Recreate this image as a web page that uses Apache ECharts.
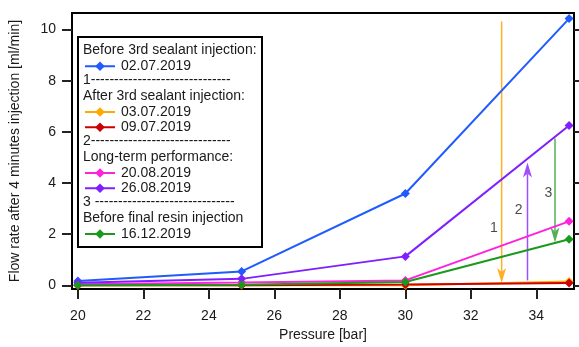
<!DOCTYPE html>
<html><head><meta charset="utf-8">
<script src="https://cdn.jsdelivr.net/npm/echarts@6/dist/echarts.min.js"></script>
<style>html,body{margin:0;padding:0;background:#fff}#c{width:579px;height:347px}</style>
</head><body><div id="c"></div>
<script>
// ---- data ----
const pressure = [20, 25, 30, 35];
const seriesNames = ['02.07.2019', '03.07.2019', '09.07.2019', '20.08.2019', '26.08.2019', '16.12.2019'];
const s0207 = [0.17, 0.54, 3.59, 10.43];
const s0307 = [0.0, 0.0, 0.0, 0.15];
const s0907 = [0.0, 0.0, 0.03, 0.09];
const s2008 = [0.04, 0.11, 0.19, 2.5];
const s2608 = [0.1, 0.25, 1.13, 6.25];
const s1612 = [0.0, 0.02, 0.13, 1.8];
const xTicks = [20, 22, 24, 26, 28, 30, 32, 34];
const yTicks = [0, 2, 4, 6, 8, 10];
const arrowX = [32.94, 33.73, 34.57];
const arrowFrom = [10.32, 0.19, 5.74];
const arrowTo = [0.09, 4.8, 1.67];
const arrowLabelX = [32.7, 33.46, 34.37];
const arrowLabelY = [2.25, 2.95, 3.62];
const arrowLabelText = ['1', '2', '3'];
const legendHeaders = ['Before 3rd sealant injection:', '1------------------------------', 'After 3rd sealant injection:',
  '2------------------------------', 'Long-term performance:', '3 ------------------------------', 'Before final resin injection'];

// ---- styles ----
const colors = ['#1f5bff', '#ffaa00', '#cc0000', '#ff22dd', '#7f1fff', '#1a9a1a'];
const arrowColors = ['#ffb020', '#a04cff', '#55b055'];
const FONT = '"Liberation Sans", Arial, sans-serif';
const TXT = '#1a1a1a';

const allValues = [s0207, s0307, s0907, s2008, s2608, s1612];
const lineSeries = allValues.map((vals, i) => ({
  name: seriesNames[i],
  type: 'line',
  data: pressure.map((p, j) => [p, vals[j]]),
  symbol: 'diamond',
  symbolSize: 9,
  showSymbol: true,
  lineStyle: { width: 2, color: colors[i] },
  itemStyle: { color: colors[i] },
  emphasis: { disabled: true },
  z: 3
}));

const legendRowY = [65.25, 111, 126.25, 172, 187.25, 233];
const headerRowY = [50, 80.5, 95.75, 141.5, 156.75, 202.5, 217.75];

const legends = seriesNames.map((n, i) => ({
  data: [n],
  left: 84,
  top: legendRowY[i] - 6,
  padding: 0,
  itemWidth: 30,
  itemHeight: 12,
  selectedMode: false,
  textStyle: { fontFamily: FONT, fontSize: 14, color: TXT, padding: [0, 0, 0, 1] },
  z: 6
}));

const graphics = [{
  type: 'rect', z: 5,
  shape: { x: 78, y: 37, width: 184, height: 210 },
  style: { fill: '#fff', stroke: '#000', lineWidth: 2 }
}].concat(legendHeaders.map((t, i) => ({
  type: 'text', z: 6,
  x: 83, y: headerRowY[i],
  style: { text: t, fontFamily: FONT, fontSize: 14, fill: TXT, verticalAlign: 'middle' }
})));

const chart = echarts.init(document.getElementById('c'));
chart.setOption({
  animation: false,
  backgroundColor: '#fff',
  grid: { left: 66, right: 5, top: 13, bottom: 52, show: true, borderColor: '#000', borderWidth: 2, backgroundColor: 'transparent' },
  legend: legends,
  graphic: graphics,
  xAxis: {
    type: 'value', min: 19.82, max: 35.15,
    name: 'Pressure [bar]', nameLocation: 'middle', nameGap: 37,
    nameTextStyle: { fontFamily: FONT, fontSize: 14, color: TXT },
    axisLine: { show: true, onZero: false, lineStyle: { color: '#000', width: 2 } },
    axisTick: { show: true, length: 10, customValues: xTicks, lineStyle: { color: '#222', width: 2 } },
    axisLabel: { customValues: xTicks, margin: 20, fontFamily: FONT, fontSize: 14, color: TXT },
    splitLine: { show: false }
  },
  yAxis: [{
    type: 'value', min: -0.15, max: 10.65, position: 'left',
    name: 'Flow rate after 4 minutes injection [ml/min]', nameLocation: 'middle', nameGap: 50,
    nameTextStyle: { fontFamily: FONT, fontSize: 14, color: TXT },
    axisLine: { show: true, onZero: false, lineStyle: { color: '#000', width: 2 } },
    axisTick: { show: true, length: 10, customValues: yTicks, lineStyle: { color: '#222', width: 2 } },
    axisLabel: { customValues: yTicks, margin: 16, fontFamily: FONT, fontSize: 14, color: TXT },
    splitLine: { show: false }
  }, {
    type: 'value', min: -0.15, max: 10.65, position: 'right',
    axisLine: { show: true, onZero: false, lineStyle: { color: '#000', width: 2 } },
    axisTick: { show: true, length: 8, customValues: yTicks, lineStyle: { color: '#222', width: 2 } },
    axisLabel: { show: false },
    splitLine: { show: false }
  }],
  series: [{
    type: 'custom',
    z: 2,
    data: arrowX.map((x, i) => [x, arrowFrom[i], arrowTo[i]]),
    renderItem: function (params, api) {
      const x = api.value(0), y1 = api.value(1), y2 = api.value(2);
      const p1 = api.coord([x, y1]), p2 = api.coord([x, y2]);
      const dir = p2[1] > p1[1] ? 1 : -1;
      const L = 15, W = 4.5, N = 11;
      const color = arrowColors[params.dataIndex];
      return {
        type: 'group', children: [
          { type: 'line', shape: { x1: p1[0], y1: p1[1], x2: p2[0], y2: p2[1] - dir * N }, style: { stroke: color, lineWidth: 1.5 } },
          { type: 'polygon', shape: { points: [[p2[0], p2[1]], [p2[0] - W, p2[1] - dir * L], [p2[0], p2[1] - dir * N], [p2[0] + W, p2[1] - dir * L]] }, style: { fill: color } }
        ]
      };
    }
  }, {
    type: 'scatter',
    symbolSize: 0,
    data: arrowLabelX.map((x, i) => ({ value: [x, arrowLabelY[i]], name: arrowLabelText[i] })),
    label: { show: true, position: 'inside', formatter: '{b}', fontFamily: FONT, fontSize: 14, color: TXT },
    silent: true,
    z: 4
  }].concat(lineSeries)
});
</script>
</body></html>
